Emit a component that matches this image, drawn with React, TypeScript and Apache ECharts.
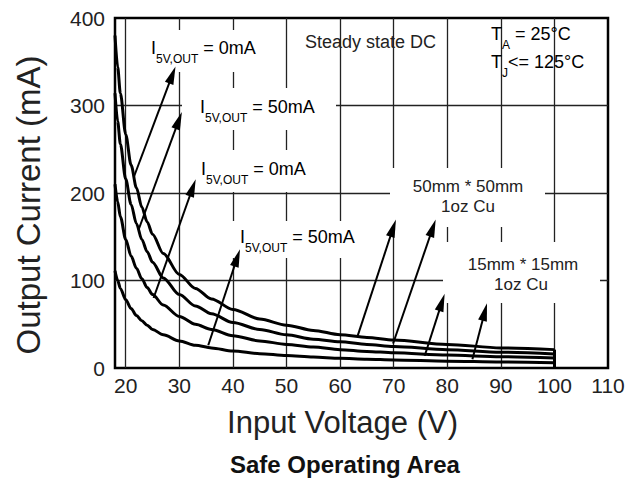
import React, { useEffect, useRef } from 'react';
import * as echarts from 'echarts';

// Input voltage samples (V)
const voltages = [18, 18.5, 19, 20, 21, 22, 23, 24, 25, 27, 30, 33, 36, 40, 45, 50, 55, 60, 65, 70, 80, 90, 100];
// Output current (mA)
const curve50x50_0mA = [380, 344, 314, 267, 232, 206, 184, 167, 153, 131, 107, 91, 79, 67, 56, 49, 43, 38, 35, 32, 27, 23, 21];
const curve50x50_50mA = [314, 282, 256, 216, 187, 165, 147, 133, 121, 103, 84, 71, 62, 52, 44, 38, 33, 30, 27, 24.5, 21, 18, 16];
const curve15x15_0mA = [210, 190, 173, 147, 128, 114, 102, 92, 84, 72, 59, 50, 44, 37, 31, 27, 24, 21, 19, 17.4, 14.8, 12.9, 11.4];
const curve15x15_50mA = [111, 100, 91, 78, 68, 60, 54, 49, 44, 38, 31, 26, 23, 19.5, 16.4, 14.2, 12.5, 11.1, 10.1, 9.2, 7.8, 6.8, 6.0];

const xTickLabels = [20, 30, 40, 50, 60, 70, 80, 90, 100, 110];
const yTickLabels = [0, 100, 200, 300, 400];
const xGridValues = [20, 30, 40, 50, 60, 70, 80, 90, 100];
const yGridValues = [100, 200, 300];

// annotation arrows: [tail [V, mA], head [V, mA]]
const arrowTails = [[21.5, 218], [22.4, 158], [25.2, 80], [35.4, 26], [63.3, 37], [69.9, 28], [75.8, 14], [84.7, 10]];
const arrowHeads = [[28.7, 335], [29.9, 283], [32.5, 206], [40.8, 126], [69.9, 160], [77.3, 160], [79.0, 75], [87.0, 64]];

const FONT = 'Liberation Sans, Arial, Helvetica, sans-serif';

const subRich = {
  m: { fontSize: 18, lineHeight: 34, verticalAlign: 'middle', fontFamily: FONT, color: '#222' },
  s: { fontSize: 12, lineHeight: 12, verticalAlign: 'bottom', fontFamily: FONT, color: '#222' },
};

function subText(x: number, y: number, txt: string) {
  return {
    type: 'text',
    x,
    y,
    z: 60,
    style: { text: txt, rich: subRich, align: 'left', verticalAlign: 'top' },
  };
}

function whiteBox(x: number, y: number, w: number, h: number) {
  return { type: 'rect', z: 50, shape: { x, y, width: w, height: h }, style: { fill: '#ffffff' } };
}

function plainText(x: number, y: number, txt: string, align: string, size: number) {
  return {
    type: 'text',
    x,
    y,
    z: 60,
    style: { text: txt, fontSize: size, fontFamily: FONT, fill: '#222', align, verticalAlign: 'middle', lineHeight: 20 },
  };
}

export default function App() {
  const ref = useRef<HTMLDivElement>(null);
  useEffect(() => {
    if (!ref.current) return;
    const chart = echarts.init(ref.current, undefined, { renderer: 'svg' });
    const curveSeries = [curve50x50_0mA, curve50x50_50mA, curve15x15_0mA, curve15x15_50mA].map((vals, i) => ({
      type: 'line',
      name: ['50mm 0mA', '50mm 50mA', '15mm 0mA', '15mm 50mA'][i],
      data: voltages.map((v, j) => [v, vals[j]]),
      showSymbol: false,
      smooth: 0.3,
      smoothMonotone: 'x',
      z: 10,
      lineStyle: { color: '#000', width: 3 },
      silent: true,
    }));
    const option: any = {
      animation: false,
      backgroundColor: '#ffffff',
      title: {
        text: 'Safe Operating Area',
        left: 230,
        top: 452,
        padding: 0,
        textStyle: { fontSize: 24, fontWeight: 'bold', color: '#111', fontFamily: FONT },
      },
      grid: { left: 115, right: 33, top: 18, bottom: 117, show: true, borderColor: '#000', borderWidth: 2.5, backgroundColor: 'transparent' },
      xAxis: {
        type: 'value',
        min: 18,
        max: 110,
        name: 'Input Voltage (V)',
        nameLocation: 'middle',
        nameGap: 39,
        nameTextStyle: { fontSize: 31, color: '#222', fontFamily: FONT, padding: [0, 38, 0, 0] },
        axisLine: { show: false },
        axisTick: { show: false },
        splitLine: { show: false },
        axisLabel: { customValues: xTickLabels, fontSize: 21, color: '#222', fontFamily: FONT, margin: 7 },
      },
      yAxis: {
        type: 'value',
        min: 0,
        max: 400,
        interval: 100,
        name: 'Output Current (mA)',
        nameLocation: 'middle',
        nameGap: 70,
        nameTextStyle: { fontSize: 33, color: '#222', fontFamily: FONT, padding: [0, 24, 0, 0] },
        axisLine: { show: false },
        axisTick: { show: false },
        splitLine: { show: false },
        axisLabel: { fontSize: 21, color: '#222', fontFamily: FONT, margin: 10, customValues: yTickLabels },
      },
      series: [
        {
          type: 'line',
          name: 'grid',
          data: [],
          z: 1,
          silent: true,
          markLine: {
            silent: true,
            z: 1,
            symbol: 'none',
            label: { show: false },
            lineStyle: { color: '#222', width: 1.3, type: 'solid' },
            data: [
              ...xGridValues.map((v) => ({ xAxis: v })),
              ...yGridValues.map((v) => ({ yAxis: v })),
            ],
          },
        },
        ...curveSeries,
        {
          type: 'line',
          name: 'arrows',
          data: [],
          z: 55,
          silent: true,
          markLine: {
            silent: true,
            z: 55,
            symbol: ['none', 'triangle'],
            symbolSize: [9, 18],
            label: { show: false },
            lineStyle: { color: '#000', width: 2, type: 'solid' },
            data: [
              ...arrowTails.map((t, i) => [{ coord: t }, { coord: arrowHeads[i] }]),
            ],
          },
        },
        {
          type: 'line',
          name: 'limit',
          data: [],
          z: 12,
          silent: true,
          markLine: {
            silent: true,
            z: 12,
            symbol: 'none',
            label: { show: false },
            lineStyle: { color: '#000', width: 3, type: 'solid' },
            data: [[{ coord: [100, 0] }, { coord: [100, curve50x50_0mA[curve50x50_0mA.length - 1]] }]],
          },
        },
      ],
      graphic: [
        whiteBox(145, 30, 120, 42),
        whiteBox(182, 88, 154, 42),
        whiteBox(196, 150, 106, 42),
        whiteBox(228, 221, 124, 37),
        whiteBox(390, 168, 155, 59),
        whiteBox(443, 242, 157, 61),
        subText(151, 30.5, '{m|I}{s|5V,OUT}{m| = 0mA}'),
        subText(200, 89.5, '{m|I}{s|5V,OUT}{m| = 50mA}'),
        subText(201, 151.5, '{m|I}{s|5V,OUT}{m| = 0mA}'),
        subText(240, 219.5, '{m|I}{s|5V,OUT}{m| = 50mA}'),
        plainText(305, 42, 'Steady state DC', 'left', 18),
        subText(491, 17, '{m|T}{s|A}{m| = 25°C}'),
        subText(491, 45, '{m|T}{s|J}{m|<= 125°C}'),
        plainText(468, 186, '50mm * 50mm', 'center', 17),
        plainText(468, 206, '1oz Cu', 'center', 17),
        plainText(523, 264, '15mm * 15mm', 'center', 17),
        plainText(521, 284, '1oz Cu', 'center', 17),
      ],
    };
    chart.setOption(option);
    return () => chart.dispose();
  }, []);
  return <div ref={ref} style={{ position: 'fixed', left: 0, top: 0, width: 641, height: 485 }} />;
}
